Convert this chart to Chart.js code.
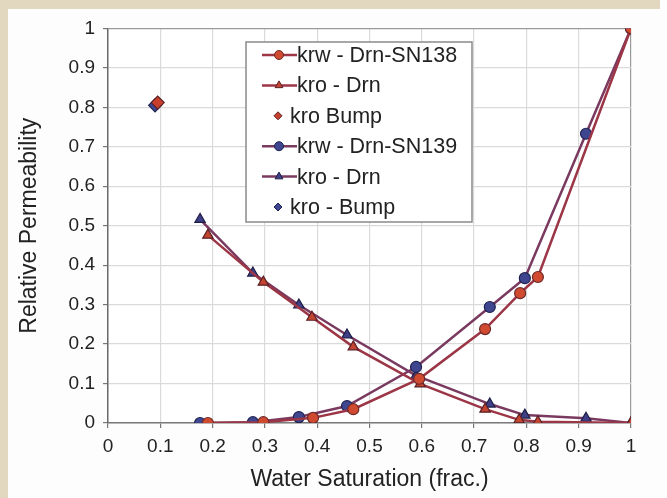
<!DOCTYPE html>
<html>
<head>
<meta charset="utf-8">
<script src="https://cdn.jsdelivr.net/npm/chart.js@4/dist/chart.umd.min.js"></script>
<style>
  html, body { margin: 0; padding: 0; }
  body { width: 667px; height: 498px; background: #fdfdfe; position: relative; overflow: hidden; }
  #frameTop { position: absolute; left: 0; top: 0; width: 660px; height: 9px; background: #e2d7bf; }
  #frameLeft { position: absolute; left: 0; top: 0; width: 8px; height: 498px; background: #e2d7bf; }
  #wrap { position: absolute; left: 8px; top: 9px; width: 659px; height: 489px; }
</style>
</head>
<body>
<div id="frameTop"></div>
<div id="frameLeft"></div>
<div id="wrap"><canvas id="relperm" width="659" height="489"></canvas></div>
<script>
// water saturation and relative permeability, sample SN138
const swKrw138 = [0.191, 0.297, 0.392, 0.469, 0.595, 0.721, 0.788, 0.822, 1.0];
const krw138 = [0.0, 0.002, 0.013, 0.035, 0.112, 0.238, 0.329, 0.370, 1.0];
const swKro138 = [0.191, 0.297, 0.390, 0.469, 0.597, 0.721, 0.786, 0.822, 1.0];
const kro138 = [0.476, 0.357, 0.268, 0.193, 0.099, 0.035, 0.008, 0.003, 0.0];

// sample SN139
const swKrw139 = [0.176, 0.277, 0.365, 0.457, 0.589, 0.730, 0.797, 0.914, 1.0];
const krw139 = [0.0, 0.002, 0.015, 0.043, 0.142, 0.294, 0.367, 0.733, 1.0];
const swKro139 = [0.176, 0.277, 0.365, 0.457, 0.589, 0.730, 0.797, 0.914, 1.0];
const kro139 = [0.516, 0.380, 0.299, 0.223, 0.120, 0.048, 0.020, 0.012, 0.0];

// single kro bump points
const swBump = [0.095, 0.090];
const kroBump = [0.812, 0.805];

const labels = ['krw - Drn-SN138', 'kro - Drn', 'kro Bump', 'krw - Drn-SN139', 'kro - Drn', 'kro - Bump'];

function pts(xs, ys) {
    return xs.map((x, i) => ({ x: x, y: ys[i] }));
}

const redLine = '#9c3646';
const blueLine = '#7a3a60';

const datasets = [
    {
        label: labels[0], data: pts(swKrw138, krw138), showLine: true,
        borderColor: redLine, borderWidth: 2.5,
        pointStyle: 'circle', pointRadius: 5.5, pointBackgroundColor: '#d04a30', pointBorderColor: '#6e2a2a', pointBorderWidth: 1.2
    },
    {
        label: labels[1], data: pts(swKro138, kro138), showLine: true,
        borderColor: redLine, borderWidth: 2.5,
        pointStyle: 'triangle', pointRadius: 6, pointBackgroundColor: '#c4452f', pointBorderColor: '#5a2028', pointBorderWidth: 1.2
    },
    {
        label: labels[2], data: pts([swBump[0]], [kroBump[0]]), showLine: false,
        pointStyle: 'rectRot', pointRadius: 6.5, pointBackgroundColor: '#c8402c', pointBorderColor: '#5a2028', pointBorderWidth: 1.2
    },
    {
        label: labels[3], data: pts(swKrw139, krw139), showLine: true,
        borderColor: blueLine, borderWidth: 2.5,
        pointStyle: 'circle', pointRadius: 5.5, pointBackgroundColor: '#3f4690', pointBorderColor: '#1f2250', pointBorderWidth: 1.2
    },
    {
        label: labels[4], data: pts(swKro139, kro139), showLine: true,
        borderColor: blueLine, borderWidth: 2.5,
        pointStyle: 'triangle', pointRadius: 6, pointBackgroundColor: '#3e3f86', pointBorderColor: '#1d1e46', pointBorderWidth: 1.2
    },
    {
        label: labels[5], data: pts([swBump[1]], [kroBump[1]]), showLine: false,
        pointStyle: 'rectRot', pointRadius: 6.5, pointBackgroundColor: '#3f4690', pointBorderColor: '#1f2250', pointBorderWidth: 1.2
    }
];

// boxed legend sitting inside the plot area
const boxLegend = {
    id: 'boxLegend',
    afterDatasetsDraw(chart) {
        const ctx = chart.ctx;
        const left = 238, top = 33, right = 464, bottom = 213;
        ctx.save();
        ctx.fillStyle = '#ffffff';
        ctx.fillRect(left, top, right - left, bottom - top);
        ctx.strokeStyle = '#8a8a8a';
        ctx.lineWidth = 1.5;
        ctx.strokeRect(left, top, right - left, bottom - top);
        ctx.font = '21.5px "Liberation Sans", Arial, sans-serif';
        ctx.textBaseline = 'middle';
        chart.data.datasets.forEach((ds, i) => {
            const y = 46 + i * 30.4;
            if (ds.showLine) {
                ctx.strokeStyle = ds.borderColor;
                ctx.lineWidth = 2.5;
                ctx.beginPath();
                ctx.moveTo(254, y);
                ctx.lineTo(289, y);
                ctx.stroke();
            }
            ctx.fillStyle = ds.pointBackgroundColor;
            ctx.strokeStyle = ds.pointBorderColor;
            ctx.lineWidth = 1;
            Chart.helpers.drawPoint(ctx, {
                pointStyle: ds.pointStyle,
                radius: ds.showLine ? 4.5 : 4,
                rotation: 0,
                borderWidth: 1
            }, ds.showLine ? 271 : 270, y);
            ctx.fillStyle = '#222222';
            ctx.fillText(ds.label, ds.showLine ? 289 : 282, y + 1);
        });
        ctx.restore();
    }
};

const plotBg = {
    id: 'plotBg',
    beforeDraw(chart) {
        const { ctx, chartArea } = chart;
        ctx.save();
        ctx.fillStyle = '#ffffff';
        ctx.fillRect(chartArea.left, chartArea.top, chartArea.right - chartArea.left, chartArea.bottom - chartArea.top);
        ctx.restore();
    }
};

const tickFont = { family: '"Liberation Sans", Arial, sans-serif', size: 19 };
const titleFont = { family: '"Liberation Sans", Arial, sans-serif', size: 23 };

// 0, 0.1 ... 0.9, 1
const tickText = v => String(Number(v.toFixed(1)));

new Chart(document.getElementById('relperm'), {
    type: 'scatter',
    data: { datasets: datasets },
    plugins: [plotBg, boxLegend],
    options: {
        responsive: false,
        animation: false,
        devicePixelRatio: 1,
        layout: { padding: { top: 19, right: 36, left: 0, bottom: 0 } },
        plugins: {
            legend: { display: false },
            tooltip: { enabled: false }
        },
        scales: {
            x: {
                type: 'linear',
                min: 0,
                max: 1,
                ticks: { stepSize: 0.1, color: '#222222', font: tickFont, padding: 7, callback: tickText },
                grid: {
                    color: c => c.tick && c.tick.value === 1 ? '#9a9a9a' : '#dadada',
                    lineWidth: 1.2,
                    tickColor: '#777777',
                    tickLength: 5
                },
                border: { color: '#7a7a7a', width: 1.5 },
                title: {
                    display: true,
                    text: 'Water Saturation (frac.)',
                    color: '#222222',
                    font: titleFont,
                    padding: { top: 0, bottom: 5 }
                },
                afterFit(scale) { scale.height = 75; }
            },
            y: {
                type: 'linear',
                min: 0,
                max: 1,
                ticks: { stepSize: 0.1, color: '#222222', font: tickFont, padding: 8, callback: tickText },
                grid: {
                    color: c => c.tick && c.tick.value === 1 ? '#9a9a9a' : '#dadada',
                    lineWidth: 1.2,
                    tickColor: '#777777',
                    tickLength: 5
                },
                border: { color: '#6a6a6a', width: 1.5 },
                title: {
                    display: true,
                    text: 'Relative Permeability',
                    color: '#222222',
                    font: titleFont,
                    padding: { top: 8, bottom: 0 }
                },
                afterFit(scale) { scale.width = 100; }
            }
        }
    }
});
</script>
</body>
</html>
